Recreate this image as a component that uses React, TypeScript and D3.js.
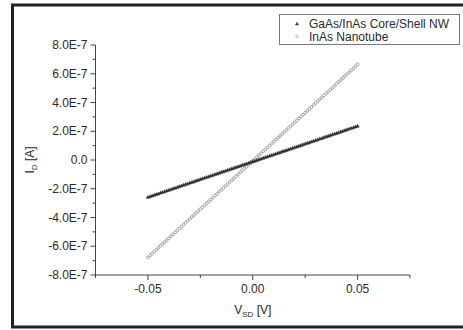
import React from "react";
import * as d3 from "d3";

// source-drain sweep, mV
const vsdMilliVolts = [
  -50, -49, -48, -47, -46, -45, -44, -43, -42, -41,
  -40, -39, -38, -37, -36, -35, -34, -33, -32, -31,
  -30, -29, -28, -27, -26, -25, -24, -23, -22, -21,
  -20, -19, -18, -17, -16, -15, -14, -13, -12, -11,
  -10, -9, -8, -7, -6, -5, -4, -3, -2, -1,
  0, 1, 2, 3, 4, 5, 6, 7, 8, 9,
  10, 11, 12, 13, 14, 15, 16, 17, 18, 19,
  20, 21, 22, 23, 24, 25, 26, 27, 28, 29,
  30, 31, 32, 33, 34, 35, 36, 37, 38, 39,
  40, 41, 42, 43, 44, 45, 46, 47, 48, 49,
  50,
];

// drain current, nA
const coreShellNA = [
  -260, -255, -251, -245, -240, -236, -230, -225, -221, -215,
  -211, -206, -200, -196, -191, -185, -181, -176, -170, -166,
  -161, -156, -151, -146, -141, -136, -131, -126, -121, -117,
  -111, -107, -101, -97, -92, -86, -82, -77, -72, -67,
  -62, -57, -52, -47, -43, -37, -33, -27, -23, -17,
  -12, -8, -3, 2, 7, 12, 17, 22, 27, 32,
  37, 41, 47, 51, 57, 61, 66, 71, 76, 81,
  86, 91, 96, 101, 106, 111, 116, 120, 126, 131,
  136, 140, 146, 150, 156, 161, 165, 170, 176, 180,
  185, 190, 195, 200, 205, 210, 215, 220, 225, 230,
  235,
];

const nanotubeNA = [
  -678, -664, -651, -637, -624, -611, -597, -584, -571, -557,
  -544, -530, -517, -503, -490, -477, -463, -450, -436, -423,
  -409, -396, -383, -369, -356, -342, -329, -315, -302, -288,
  -275, -262, -248, -235, -221, -208, -194, -181, -168, -154,
  -141, -127, -114, -100, -87, -73, -60, -47, -33, -20,
  -6, 7, 20, 34, 47, 61, 74, 88, 101, 114,
  128, 141, 155, 168, 181, 195, 208, 222, 235, 248,
  262, 275, 289, 302, 315, 329, 342, 356, 369, 383,
  396, 409, 423, 436, 450, 463, 476, 490, 503, 517,
  531, 544, 557, 571, 584, 598, 611, 624, 638, 651,
  665,
];

const xMajorTicks = [-0.05, 0, 0.05];
const xMinorTicks = [-0.075, -0.025, 0.025, 0.075];
const xTickLabels = ["-0.05", "0.00", "0.05"];
const yMajorTicks = [-8e-7, -6e-7, -4e-7, -2e-7, 0, 2e-7, 4e-7, 6e-7, 8e-7];
const yMinorTicks = [-7e-7, -5e-7, -3e-7, -1e-7, 1e-7, 3e-7, 5e-7, 7e-7];
const yTickLabels = ["-8.0E-7", "-6.0E-7", "-4.0E-7", "-2.0E-7", "0.0", "2.0E-7", "4.0E-7", "6.0E-7", "8.0E-7"];
const seriesNames = ["GaAs/InAs Core/Shell NW", "InAs Nanotube"];

const W = 463;
const H = 330;
const font = "'Liberation Sans', Arial, sans-serif";
const textColor = "#2a2a2a";
const axisColor = "#444";

export default function App() {
  const x = d3.scaleLinear().domain([-0.075, 0.075]).range([95.5, 410]);
  const y = d3.scaleLinear().domain([-8e-7, 8e-7]).range([275, 45]);

  const tri = d3.symbol().type(d3.symbolTriangle).size(5)()!;
  const legendTri = d3.symbol().type(d3.symbolTriangle).size(4)()!;

  const coreShell = vsdMilliVolts.map((v, i) => ({ v: v / 1000, i: coreShellNA[i] * 1e-9 }));
  const nanotube = vsdMilliVolts.map((v, i) => ({ v: v / 1000, i: nanotubeNA[i] * 1e-9 }));

  const [x0, x1] = x.range();
  const [y0, y1] = y.range();

  return (
    <svg
      width={W}
      height={H}
      style={{ position: "absolute", left: 0, top: 0, background: "#fff" }}
      fontFamily={font}
    >
      {/* outer frame */}
      <rect x={12.5} y={5} width={W} height={322} fill="none" stroke="#222" strokeWidth={3} />

      {/* data */}
      <g>
        {nanotube.map((d, k) => (
          <circle key={"n" + k} cx={x(d.v)} cy={y(d.i)} r={1.4} fill="#fff" stroke="#9c9c9c" strokeWidth={0.9} />
        ))}
        {coreShell.map((d, k) => (
          <path key={"c" + k} d={tri} transform={`translate(${x(d.v)},${y(d.i)})`} fill="#2e2e2e" stroke="#2e2e2e" strokeWidth={0.5} />
        ))}
      </g>

      {/* y axis */}
      <g stroke={axisColor} strokeWidth={1}>
        <line x1={x0} x2={x0} y1={y1} y2={y0} />
        {yMajorTicks.map((t) => (
          <line key={"ym" + t} x1={x0 - 5} x2={x0} y1={y(t)} y2={y(t)} />
        ))}
        {yMinorTicks.map((t) => (
          <line key={"yn" + t} x1={x0 - 3} x2={x0} y1={y(t)} y2={y(t)} />
        ))}
      </g>
      {yMajorTicks.map((t, k) => (
        <text key={"yl" + t} x={x0 - 8} y={y(t)} dy="0.35em" textAnchor="end" fontSize={12} fill={textColor}>
          {yTickLabels[k]}
        </text>
      ))}

      {/* x axis */}
      <g stroke={axisColor} strokeWidth={1}>
        <line x1={x0} x2={x1} y1={y0} y2={y0} />
        {xMajorTicks.map((t) => (
          <line key={"xm" + t} x1={x(t)} x2={x(t)} y1={y0} y2={y0 + 5} />
        ))}
        {xMinorTicks.map((t) => (
          <line key={"xn" + t} x1={x(t)} x2={x(t)} y1={y0} y2={y0 + 3} />
        ))}
      </g>
      {xMajorTicks.map((t, k) => (
        <text key={"xl" + t} x={x(t)} y={y0 + 18} textAnchor="middle" fontSize={12} fill={textColor}>
          {xTickLabels[k]}
        </text>
      ))}

      {/* axis titles */}
      <text x={x(0)} y={314} textAnchor="middle" fontSize={12} fill={textColor}>
        V<tspan fontSize={8} dy={3}>SD</tspan>
        <tspan dy={-3}> [V]</tspan>
      </text>
      <text transform={`translate(34,${y(0)}) rotate(-90)`} textAnchor="middle" fontSize={12} fill={textColor}>
        I<tspan fontSize={8} dy={3}>D</tspan>
        <tspan dy={-3}> [A]</tspan>
      </text>

      {/* legend */}
      <g>
        <rect x={279.5} y={14.5} width={180} height={30} fill="#fff" stroke="#777" strokeWidth={1} />
        <path d={legendTri} transform="translate(297,24)" fill="#333" stroke="#333" strokeWidth={0.5} />
        <circle cx={297} cy={36.5} r={1.3} fill="#fff" stroke="#aaa" strokeWidth={0.9} />
        {seriesNames.map((name, k) => (
          <text key={name} x={309} y={28 + k * 13} fontSize={12} fill={textColor}>
            {name}
          </text>
        ))}
      </g>
    </svg>
  );
}
